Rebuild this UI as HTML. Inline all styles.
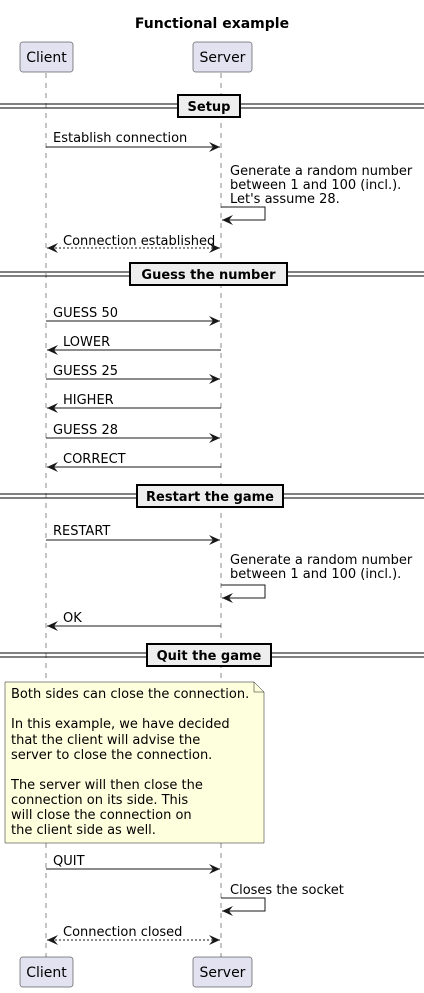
<!DOCTYPE html>
<html><head><meta charset="utf-8"><style>
html,body{margin:0;padding:0;background:#fff;}
svg{display:block;}
text{font-family:"DejaVu Sans","Liberation Sans",sans-serif;font-size:13px;fill:#000;}
.b{font-weight:bold;}
.p{font-size:14px;}
</style></head><body>
<svg width="424" height="993" viewBox="0 0 424 993" xmlns="http://www.w3.org/2000/svg">
<defs>
<marker id="a" markerWidth="12" markerHeight="10" refX="11" refY="5" orient="auto" markerUnits="userSpaceOnUse">
<path d="M0,0 L11,5 L0,10 L4,5 Z" fill="#181818"/></marker>
<marker id="s" markerWidth="12" markerHeight="10" refX="1" refY="5" orient="auto" markerUnits="userSpaceOnUse">
<path d="M12,0 L1,5 L12,10 L8,5 Z" fill="#181818"/></marker>
</defs>
<text x="212" y="28" text-anchor="middle" class="b" style="font-size:14px">Functional example</text>
<g stroke="#181818" stroke-dasharray="5,5" stroke-width="0.5">
<line x1="46" y1="73" x2="46" y2="957"/><line x1="221" y1="73" x2="221" y2="957"/></g>
<g fill="#E2E2F0" stroke="#181818" stroke-width="0.5">
<rect x="20" y="42" width="53" height="30" rx="2.5"/><rect x="193" y="42" width="59" height="30" rx="2.5"/>
<rect x="20" y="957" width="53" height="30" rx="2.5"/><rect x="193" y="957" width="59" height="30" rx="2.5"/></g>
<text x="46.5" y="62" text-anchor="middle" class="p">Client</text><text x="222.5" y="62" text-anchor="middle" class="p">Server</text>
<text x="46.5" y="977" text-anchor="middle" class="p">Client</text><text x="222.5" y="977" text-anchor="middle" class="p">Server</text>
<g stroke="#000" stroke-width="1">
<line x1="0" y1="104" x2="424" y2="104"/><line x1="0" y1="108" x2="424" y2="108"/>
<line x1="0" y1="272" x2="424" y2="272"/><line x1="0" y1="276" x2="424" y2="276"/>
<line x1="0" y1="494" x2="424" y2="494"/><line x1="0" y1="498" x2="424" y2="498"/>
<line x1="0" y1="653" x2="424" y2="653"/><line x1="0" y1="657" x2="424" y2="657"/>
</g>
<g fill="#EEEEEE" stroke="#000" stroke-width="2">
<rect x="178" y="95" width="62" height="22"/><rect x="130" y="263" width="157" height="22"/>
<rect x="137" y="485" width="146" height="22"/><rect x="147" y="644" width="124" height="22"/></g>
<text x="209" y="111" text-anchor="middle" class="b">Setup</text>
<text x="208.5" y="279" text-anchor="middle" class="b">Guess the number</text>
<text x="210" y="501" text-anchor="middle" class="b">Restart the game</text>
<text x="209" y="660" text-anchor="middle" class="b">Quit the game</text>
<g stroke="#181818" stroke-width="1" fill="none">
<line x1="46" y1="147" x2="220" y2="147" marker-end="url(#a)"/>
<polyline points="221,207 265,207 265,220 222,220" marker-end="url(#a)"/>
<line x1="47" y1="248" x2="220" y2="248" stroke-dasharray="2,2" marker-start="url(#s)" marker-end="url(#a)"/>
<line x1="46" y1="321" x2="220" y2="321" marker-end="url(#a)"/>
<line x1="221" y1="350" x2="47" y2="350" marker-end="url(#a)"/>
<line x1="46" y1="379" x2="220" y2="379" marker-end="url(#a)"/>
<line x1="221" y1="408" x2="47" y2="408" marker-end="url(#a)"/>
<line x1="46" y1="438" x2="220" y2="438" marker-end="url(#a)"/>
<line x1="221" y1="467" x2="47" y2="467" marker-end="url(#a)"/>
<line x1="46" y1="540" x2="220" y2="540" marker-end="url(#a)"/>
<polyline points="221,585 265,585 265,598 222,598" marker-end="url(#a)"/>
<line x1="221" y1="626" x2="47" y2="626" marker-end="url(#a)"/>
<line x1="46" y1="869" x2="220" y2="869" marker-end="url(#a)"/>
<polyline points="221,898 265,898 265,911 222,911" marker-end="url(#a)"/>
<line x1="47" y1="940" x2="220" y2="940" stroke-dasharray="2,2" marker-start="url(#s)" marker-end="url(#a)"/>
</g>
<text x="53" y="142">Establish connection</text>
<text x="230" y="175">Generate a random number</text>
<text x="230" y="189">between 1 and 100 (incl.).</text>
<text x="230" y="203">Let's assume 28.</text>
<text x="63" y="245">Connection established</text>
<text x="53" y="317">GUESS 50</text>
<text x="63" y="346">LOWER</text>
<text x="53" y="375">GUESS 25</text>
<text x="63" y="404">HIGHER</text>
<text x="53" y="434">GUESS 28</text>
<text x="63" y="463">CORRECT</text>
<text x="53" y="535">RESTART</text>
<text x="230" y="564">Generate a random number</text>
<text x="230" y="578">between 1 and 100 (incl.).</text>
<text x="63" y="622">OK</text>
<path d="M5,682 L254,682 L264,692 L264,843 L5,843 Z" fill="#FEFFDD" stroke="#181818" stroke-width="0.5"/>
<path d="M254,682 L254,692 L264,692" fill="none" stroke="#181818" stroke-width="0.5"/>
<g>
<text x="11" y="698">Both sides can close the connection.</text>
<text x="11" y="728">In this example, we have decided</text>
<text x="11" y="744">that the client will advise the</text>
<text x="11" y="759">server to close the connection.</text>
<text x="11" y="789">The server will then close the</text>
<text x="11" y="804">connection on its side. This</text>
<text x="11" y="819">will close the connection on</text>
<text x="11" y="834">the client side as well.</text>
</g>
<text x="53" y="865">QUIT</text>
<text x="230" y="894">Closes the socket</text>
<text x="63" y="936">Connection closed</text>
</svg>
</body></html>
